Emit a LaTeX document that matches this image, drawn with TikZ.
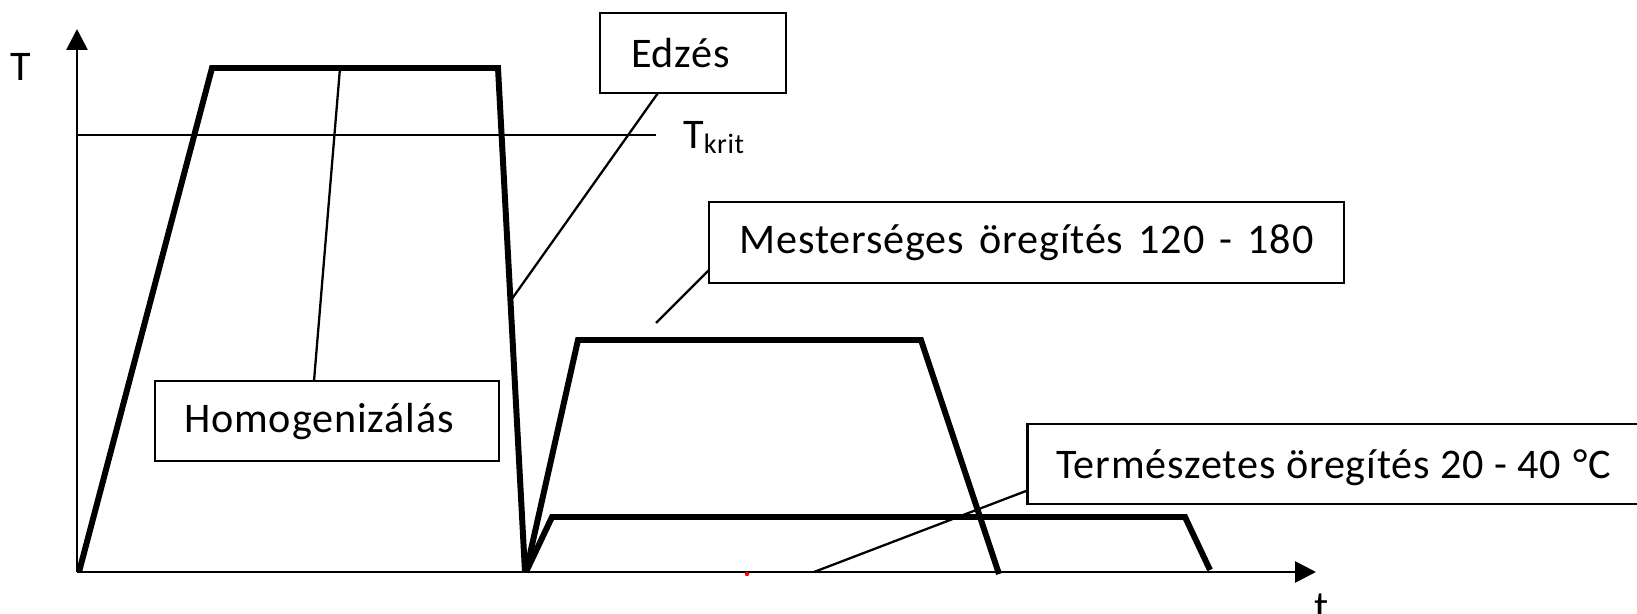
\documentclass[tikz,border=0pt]{standalone}
\usepackage{fontspec}
\setmainfont{Carlito}[LetterSpace=2.0]
\usetikzlibrary{arrows.meta}
\begin{document}
\begin{tikzpicture}[x=0.02cm,y=-0.02cm,
  curve/.style={line width=3.4pt, line join=miter},
  axis/.style={line width=1.6pt, -{Triangle[length=0.42cm,width=0.42cm]}},
  lead/.style={line width=1.3pt},
  lbl/.style={draw, line width=1.5pt, font=\fontsize{24}{28}\selectfont, inner sep=0pt, align=center},
  txt/.style={font=\fontsize{24}{28}\selectfont, inner sep=0pt}]
\fill[white] (0,0) rectangle (1637,614);
\useasboundingbox (0,0) rectangle (1637,614);
\clip (0,0) rectangle (1637,614);
% axes
\coordinate (o) at (77,572);
\coordinate (ytip) at (77,29);
\coordinate (xtip) at (1316,572);
\draw[axis] (o) -- (ytip);
\draw[axis] (o) -- (xtip);
\node[txt, anchor=base] (Tlab) at (21,81) {T};
\node[txt, anchor=base] (tlab) at (1322,621) {t};
% critical temperature
\coordinate (k1) at (77,135);
\coordinate (k2) at (656,135);
\draw[lead] (k1) -- (k2);
\node[txt, anchor=base west] (tkrit) at (683,149) {T\raisebox{-2.3pt}{\fontsize{16}{18}\selectfont krit}};
% curves
\coordinate (a1) at (79,572); \coordinate (a2) at (212,68);
\coordinate (a3) at (498,68); \coordinate (a4) at (525,572);
\draw[curve] (a1) -- (a2) -- (a3) -- (a4);
\coordinate (b1) at (526,572); \coordinate (b2) at (578,340);
\coordinate (b3) at (921,340); \coordinate (b4) at (999,574);
\draw[curve] (b1) -- (b2) -- (b3) -- (b4);
\coordinate (c1) at (526,572); \coordinate (c2) at (552,517);
\coordinate (c3) at (1185,517); \coordinate (c4) at (1210,570);
\draw[curve] (c1) -- (c2) -- (c3) -- (c4);
% label boxes
\node[lbl, minimum width=3.72cm, minimum height=1.6cm] (edz) at (693,53) {Edzés\hspace*{0.5cm}};
\node[lbl, minimum width=6.88cm, minimum height=1.6cm] (hom) at (327,421) {Homogenizálás\hspace*{0.32cm}};
\node[lbl, minimum width=12.7cm, minimum height=1.62cm] (mes) at (1026.5,242.5) {\spaceskip=0.36em Mesterséges öregítés 120 - 180};
\node[lbl, anchor=west, minimum height=1.6cm, inner xsep=0.58cm, text depth=0pt] (ter) at (1026,464) {Természetes öregítés 20 - 40 \kern1pt°C};
% leaders
\coordinate (e1) at (658,93); \coordinate (e2) at (509,303);
\draw[lead] (e1) -- (e2);
\coordinate (h1) at (314,381); \coordinate (h2) at (340,68);
\draw[lead] (h1) -- (h2);
\coordinate (m1) at (709,270); \coordinate (m2) at (656,323);
\draw[lead] (m1) -- (m2);
\coordinate (n1) at (1026,491); \coordinate (n2) at (814,572);
\draw[lead] (n1) -- (n2);
% small red mark
\fill[red] (747,574) circle (2.2);
\end{tikzpicture}
\end{document}
